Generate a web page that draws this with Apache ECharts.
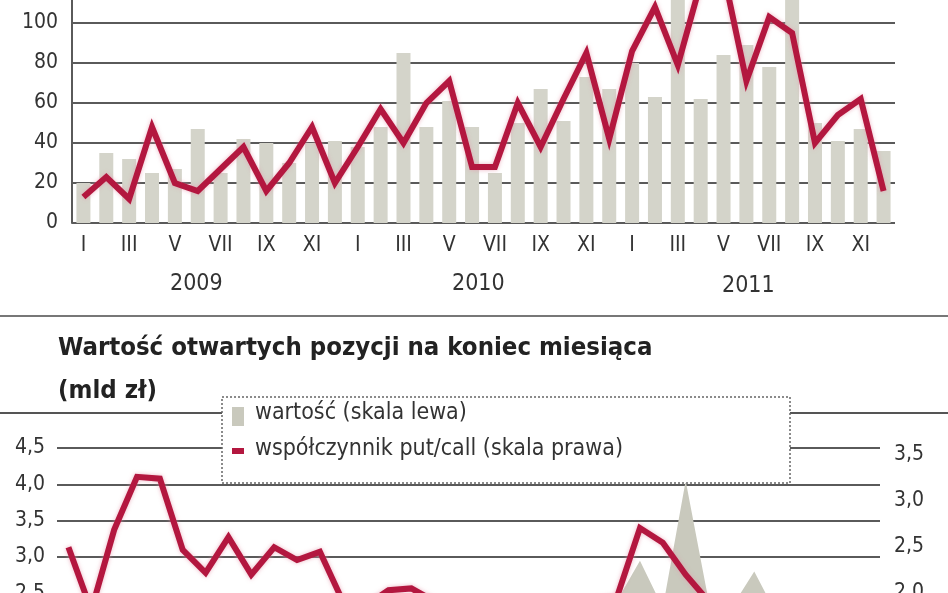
<!DOCTYPE html>
<html>
<head>
<meta charset="utf-8">
<script src="https://cdn.jsdelivr.net/npm/echarts@6/dist/echarts.min.js"></script>
<style>
html, body { margin: 0; padding: 0; width: 948px; height: 593px; overflow: hidden; background: #fff; }
#chart { position: absolute; left: 0; top: -40px; width: 948px; height: 860px; }
</style>
</head>
<body>
<div id="chart"></div>
<script>
// miesiące I.2009 - XII.2011
const monthLabels = [
    'I','II','III','IV','V','VI','VII','VIII','IX','X','XI','XII',
    'I','II','III','IV','V','VI','VII','VIII','IX','X','XI','XII',
    'I','II','III','IV','V','VI','VII','VIII','IX','X','XI','XII'
];
const years = ['2009', '2010', '2011'];

// górny wykres – słupki i linia
const topBars = [
    20, 35, 32, 25, 27, 47, 25, 42, 40, 30, 40, 41,
    38, 48, 85, 48, 61, 48, 25, 50, 67, 51, 73, 67,
    80, 63, 125, 62, 84, 89, 78, 125, 50, 41, 47, 36
];
const topLine = [
    13, 23, 12, 48, 20, 16, 27, 38, 16, 30, 48, 20,
    38, 57, 40, 60, 71, 28, 28, 60, 38, 62, 85, 42,
    86, 108, 79, 120, 125, 71, 103, 95, 40, 54, 62, 16
];

// dolny wykres: wartość otwartych pozycji (mld zł) i współczynnik put/call
const openValue = [
    1.6, 1.7, 1.8, 1.9, 1.8, 1.7, 1.9, 2.0, 1.8, 1.7, 1.6, 1.8,
    1.7, 1.6, 1.8, 1.9, 1.7, 1.8, 1.9, 2.0, 2.1, 2.0, 2.2, 2.3,
    2.4, 2.95, 2.3, 4.05, 2.4, 2.3, 2.8, 2.2, 2.0, 1.9, 2.0, 1.8
];
const putCall = [
    2.49, 1.8, 2.68, 3.26, 3.24, 2.46, 2.21, 2.60, 2.19, 2.49, 2.35, 2.44,
    1.9, 1.85, 2.02, 2.04, 1.9, 1.8, 1.85, 1.9, 1.8, 1.75, 1.85, 1.9,
    1.95, 2.70, 2.54, 2.19, 1.9, 1.8, 1.85, 1.7, 1.8, 1.75, 1.7, 1.6
];

const FONT = "'Liberation Sans Narrow', 'DejaVu Sans Condensed', 'Liberation Sans', sans-serif";
const TXT = '#333';
const RED = '#b3173f';
const BAR = '#d4d4ca';
const GRIDC = '#5a5a5a';

const comma = v => v.toFixed(1).replace('.', ',');

const chart = echarts.init(document.getElementById('chart'));
const option = {
    animation: false,
    grid: [
        { left: 72, top: 23, width: 823, height: 240 },
        { left: 57, top: 488, width: 823, height: 327 }
    ],
    xAxis: [
        {
            type: 'category', gridIndex: 0, data: monthLabels,
            axisLine: { show: false }, axisTick: { show: false },
            axisLabel: { interval: 1, color: TXT, fontFamily: FONT, fontSize: 21, margin: 12 }
        },
        {
            type: 'category', gridIndex: 1, data: monthLabels,
            axisLine: { show: false }, axisTick: { show: false }, axisLabel: { show: false }
        }
    ],
    yAxis: [
        {
            type: 'value', gridIndex: 0, min: 0, max: 120, interval: 20,
            axisLine: { show: true, lineStyle: { color: GRIDC, width: 2 } },
            axisTick: { show: false },
            axisLabel: { color: TXT, fontFamily: FONT, fontSize: 21, margin: 14 },
            splitLine: { lineStyle: { color: GRIDC, width: 2 } }
        },
        {
            type: 'value', gridIndex: 1, min: 0, max: 4.5, interval: 0.5,
            axisLine: { show: false }, axisTick: { show: false },
            axisLabel: { color: TXT, fontFamily: FONT, fontSize: 21, margin: 12, formatter: comma },
            splitLine: { lineStyle: { color: GRIDC, width: 2 } }
        },
        {
            type: 'value', gridIndex: 1, position: 'right', min: 0, max: 3.575, interval: 0.5,
            axisLine: { show: false }, axisTick: { show: false }, splitLine: { show: false },
            axisLabel: {
                color: TXT, fontFamily: FONT, fontSize: 21, margin: 14,
                formatter: v => (Math.abs(v * 2 - Math.round(v * 2)) < 1e-6 ? comma(v) : '')
            }
        }
    ],
    series: [
        {
            type: 'bar', xAxisIndex: 0, yAxisIndex: 0, data: topBars,
            barWidth: 14, itemStyle: { color: BAR }, z: 2
        },
        {
            type: 'line', xAxisIndex: 0, yAxisIndex: 0, data: topLine,
            symbol: 'none', lineStyle: { color: RED, width: 6, join: 'miter',
                shadowColor: 'rgba(230,150,170,0.7)', shadowBlur: 4 }, z: 3
        },
        {
            type: 'line', xAxisIndex: 1, yAxisIndex: 1, data: openValue,
            symbol: 'none', lineStyle: { width: 0 }, areaStyle: { color: '#c9c9bd', opacity: 1 }, z: 2
        },
        {
            type: 'line', xAxisIndex: 1, yAxisIndex: 2, data: putCall,
            symbol: 'none', lineStyle: { color: RED, width: 6, join: 'miter',
                shadowColor: 'rgba(230,150,170,0.7)', shadowBlur: 4 }, z: 3
        }
    ],
    graphic: [
        { type: 'text', left: 170, top: 313, z: 10, style: { text: years[0], font: `23px ${FONT}`, fill: TXT } },
        { type: 'text', left: 452, top: 313, z: 10, style: { text: years[1], font: `23px ${FONT}`, fill: TXT } },
        { type: 'text', left: 722, top: 315, z: 10, style: { text: years[2], font: `23px ${FONT}`, fill: TXT } },
        { type: 'line', z: 10, shape: { x1: 0, y1: 356, x2: 948, y2: 356 }, style: { stroke: '#777', lineWidth: 2 } },
        { type: 'text', left: 58, top: 375, z: 10,
          style: { text: 'Wartość otwartych pozycji na koniec miesiąca', font: `bold 25.5px ${FONT}`, fill: '#222' } },
        { type: 'text', left: 58, top: 418, z: 10,
          style: { text: '(mld zł)', font: `bold 25.5px ${FONT}`, fill: '#222' } },
        { type: 'line', z: 10, shape: { x1: 0, y1: 453, x2: 948, y2: 453 }, style: { stroke: '#555', lineWidth: 2 } },
        { type: 'rect', z: 20, shape: { x: 222, y: 437, width: 568, height: 86 },
          style: { fill: '#fff', stroke: '#666', lineWidth: 1.5, lineDash: [2, 2] } },
        { type: 'rect', z: 21, shape: { x: 232, y: 447, width: 12, height: 19 }, style: { fill: '#c9c9bd' } },
        { type: 'text', z: 21, left: 255, top: 442,
          style: { text: 'wartość (skala lewa)', font: `23px ${FONT}`, fill: TXT } },
        { type: 'rect', z: 21, shape: { x: 232, y: 488, width: 12, height: 6 }, style: { fill: RED } },
        { type: 'text', z: 21, left: 255, top: 478,
          style: { text: 'współczynnik put/call (skala prawa)', font: `23px ${FONT}`, fill: TXT } }
    ]
};
chart.setOption(option);
</script>
</body>
</html>
